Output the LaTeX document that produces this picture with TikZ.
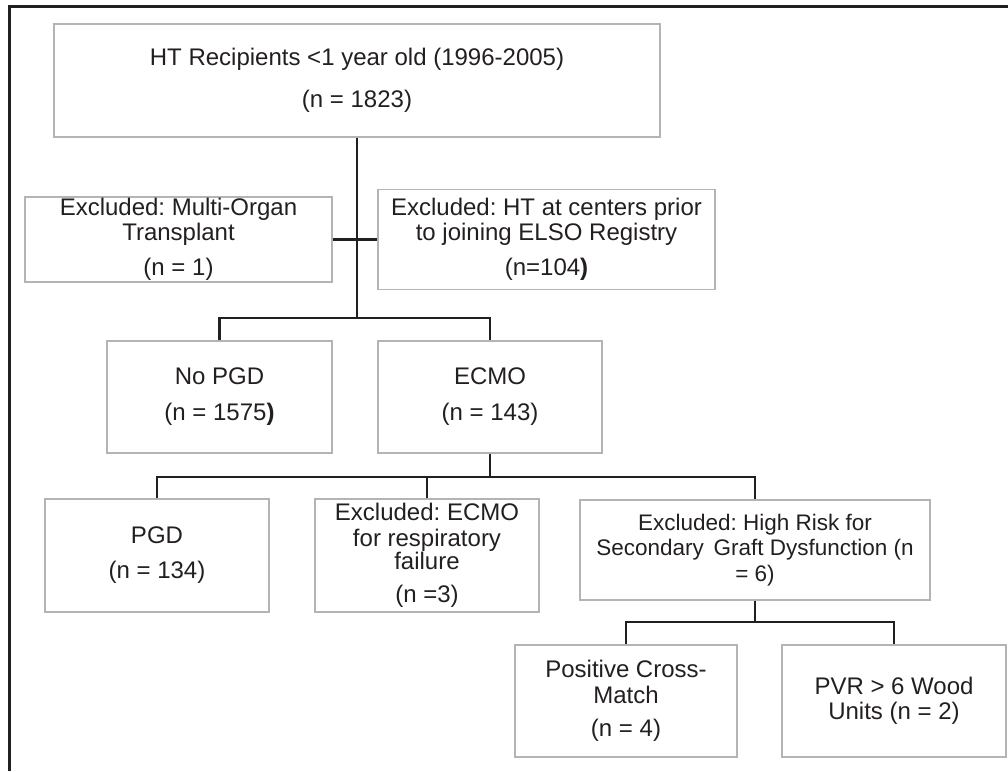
\documentclass[tikz,border=0pt]{standalone}
\usepackage{fontspec}
\setmainfont{Liberation Sans}
\frenchspacing
\definecolor{ink}{HTML}{231F20}
\definecolor{boxline}{HTML}{B4B4B4}
\tikzset{
  fbox/.style={draw=boxline, line width=1.4pt, align=center, inner sep=0pt,
    text=ink, font=\fontsize{24}{25.5}\selectfont},
  smallfont/.style={font=\fontsize{22.5}{25.5}\selectfont},
  conn/.style={draw=ink, line width=2.8pt},
}
\begin{document}
\begin{tikzpicture}[x=1pt,y=-1pt]
\useasboundingbox (0,0) rectangle (1008,771);
\draw[ink, line width=3pt] (9,771) -- (9,6) -- (1008,6);

\node[fbox, minimum width=606pt, minimum height=113pt] (top) at (357,80.5)
  {HT Recipients <1 year old (1996-2005)\\[16pt](n = 1823)};
\node[fbox, minimum width=307pt, minimum height=85pt] (multi) at (178.5,239.5)
  {Excluded: Multi-Organ\\Transplant\\[9.5pt](n = 1)};
\node[fbox, minimum width=337pt, minimum height=100pt] (htc) at (546.5,239.5)
  {Excluded: HT at centers prior\\to joining ELSO Registry\\[9.5pt](n=104\textbf{)}};
\node[fbox, minimum width=225pt, minimum height=112pt] (nopgd) at (219.5,397)
  {No PGD\\[10.5pt](n = 1575\textbf{)}};
\node[fbox, minimum width=224pt, minimum height=112pt] (ecmo) at (490,397)
  {ECMO\\[10.5pt](n = 143)};
\node[fbox, minimum width=224pt, minimum height=113pt] (pgd) at (157,555.5)
  {PGD\\[9.5pt](n = 134)};
\node[fbox, minimum width=224pt, minimum height=113pt] (resp) at (427,555.5)
  {Excluded: ECMO\\for respiratory\\[-2pt]failure\\[7pt](n =3)};
\node[fbox, smallfont, minimum width=350pt, minimum height=100pt] (risk) at (755,550)
  {Excluded: High Risk for\\Secondary \hspace{0.15em}Graft Dysfunction (n\\= 6)};
\node[fbox, minimum width=222pt, minimum height=112pt] (pos) at (626,701)
  {Positive Cross-\\Match\\[8pt](n = 4)};
\node[fbox, minimum width=224pt, minimum height=112pt] (pvr) at (894,701)
  {PVR > 6 Wood\\Units (n = 2)};

\coordinate (j1) at (357,318);
\coordinate (j2) at (490,477);
\coordinate (j3) at (755,622);

\draw[conn] (top.south) -- (j1);
\draw[conn] (multi.east) -- (htc.west);
\draw[conn] (nopgd.north) |- (j1) -| (ecmo.north);
\draw[conn] (ecmo.south) -- (j2);
\draw[conn] (pgd.north) |- (j2) -| (risk.north);
\draw[conn] (resp.north) -- (resp.north |- j2);
\draw[conn] (risk.south) -- (j3);
\draw[conn] (pos.north) |- (j3) -| (pvr.north);
\end{tikzpicture}
\end{document}
